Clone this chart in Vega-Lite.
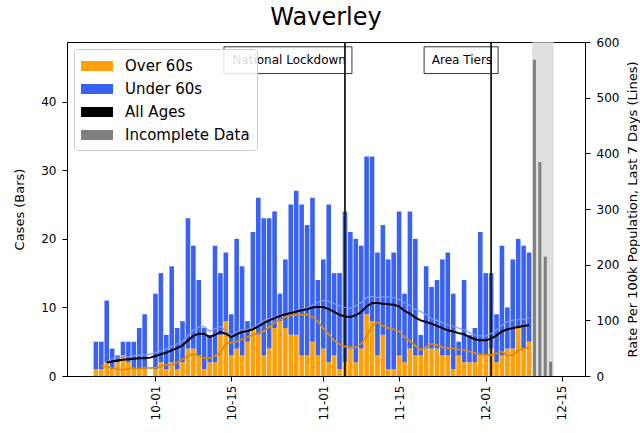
{
 "$schema": "https://vega.github.io/schema/vega-lite/v6.json",
 "width": 518,
 "height": 334,
 "autosize": {"type": "none"},
 "padding": {"left": 67, "top": 42, "right": 55, "bottom": 57},
 "title": {"text": "Waverley", "fontSize": 24, "font": "DejaVu Sans", "fontWeight": "normal", "offset": 6, "color": "black"},
 "config": {
  "font": "DejaVu Sans",
  "timeFormat": "%m-%d",
  "view": {"stroke": "black", "strokeWidth": 1},
  "axis": {"labelFont": "DejaVu Sans", "labelFontSize": 12, "labelColor": "black", "titleFont": "DejaVu Sans", "titleFontSize": 13, "titleFontWeight": "normal", "titleColor": "black", "tickColor": "black", "domainColor": "black", "tickSize": 5, "labelPadding": 6, "grid": false}
 },
 "datasets": {
  "bars": [
   {"date": "2020-09-20", "Over 60s": 1, "Under 60s": 4},
   {"date": "2020-09-21", "Over 60s": 1, "Under 60s": 4},
   {"date": "2020-09-22", "Over 60s": 2, "Under 60s": 9},
   {"date": "2020-09-23", "Over 60s": 1, "Under 60s": 3},
   {"date": "2020-09-24", "Over 60s": 2, "Under 60s": 1},
   {"date": "2020-09-25", "Over 60s": 3, "Under 60s": 2},
   {"date": "2020-09-26", "Over 60s": 2, "Under 60s": 3},
   {"date": "2020-09-27", "Over 60s": 1, "Under 60s": 4},
   {"date": "2020-09-28", "Over 60s": 1, "Under 60s": 6},
   {"date": "2020-09-29", "Over 60s": 1, "Under 60s": 8},
   {"date": "2020-10-01", "Over 60s": 1, "Under 60s": 11},
   {"date": "2020-10-02", "Over 60s": 2, "Under 60s": 13},
   {"date": "2020-10-03", "Over 60s": 1, "Under 60s": 5},
   {"date": "2020-10-04", "Over 60s": 2, "Under 60s": 14},
   {"date": "2020-10-05", "Over 60s": 1, "Under 60s": 6},
   {"date": "2020-10-06", "Over 60s": 2, "Under 60s": 6},
   {"date": "2020-10-07", "Over 60s": 4, "Under 60s": 19},
   {"date": "2020-10-08", "Over 60s": 4, "Under 60s": 15},
   {"date": "2020-10-09", "Over 60s": 3, "Under 60s": 11},
   {"date": "2020-10-10", "Over 60s": 1, "Under 60s": 6},
   {"date": "2020-10-11", "Over 60s": 2, "Under 60s": 4},
   {"date": "2020-10-12", "Over 60s": 2, "Under 60s": 17},
   {"date": "2020-10-13", "Over 60s": 6, "Under 60s": 9},
   {"date": "2020-10-14", "Over 60s": 8, "Under 60s": 10},
   {"date": "2020-10-15", "Over 60s": 3, "Under 60s": 6},
   {"date": "2020-10-16", "Over 60s": 4, "Under 60s": 16},
   {"date": "2020-10-17", "Over 60s": 3, "Under 60s": 13},
   {"date": "2020-10-18", "Over 60s": 5, "Under 60s": 3},
   {"date": "2020-10-19", "Over 60s": 7, "Under 60s": 14},
   {"date": "2020-10-20", "Over 60s": 6, "Under 60s": 20},
   {"date": "2020-10-21", "Over 60s": 3, "Under 60s": 20},
   {"date": "2020-10-22", "Over 60s": 4, "Under 60s": 19},
   {"date": "2020-10-23", "Over 60s": 7, "Under 60s": 17},
   {"date": "2020-10-24", "Over 60s": 8, "Under 60s": 4},
   {"date": "2020-10-25", "Over 60s": 7, "Under 60s": 10},
   {"date": "2020-10-26", "Over 60s": 6, "Under 60s": 19},
   {"date": "2020-10-27", "Over 60s": 6, "Under 60s": 21},
   {"date": "2020-10-28", "Over 60s": 3, "Under 60s": 22},
   {"date": "2020-10-29", "Over 60s": 3, "Under 60s": 19},
   {"date": "2020-10-30", "Over 60s": 5, "Under 60s": 21},
   {"date": "2020-10-31", "Over 60s": 3, "Under 60s": 11},
   {"date": "2020-11-01", "Over 60s": 4, "Under 60s": 13},
   {"date": "2020-11-02", "Over 60s": 2, "Under 60s": 23},
   {"date": "2020-11-03", "Over 60s": 3, "Under 60s": 12},
   {"date": "2020-11-04", "Over 60s": 1, "Under 60s": 14},
   {"date": "2020-11-05", "Over 60s": 2, "Under 60s": 22},
   {"date": "2020-11-06", "Over 60s": 4, "Under 60s": 17},
   {"date": "2020-11-07", "Over 60s": 2, "Under 60s": 18},
   {"date": "2020-11-08", "Over 60s": 4, "Under 60s": 15},
   {"date": "2020-11-09", "Over 60s": 9, "Under 60s": 23},
   {"date": "2020-11-10", "Over 60s": 8, "Under 60s": 24},
   {"date": "2020-11-11", "Over 60s": 3, "Under 60s": 15},
   {"date": "2020-11-12", "Over 60s": 6, "Under 60s": 16},
   {"date": "2020-11-13", "Over 60s": 1, "Under 60s": 16},
   {"date": "2020-11-14", "Over 60s": 1, "Under 60s": 17},
   {"date": "2020-11-15", "Over 60s": 3, "Under 60s": 21},
   {"date": "2020-11-16", "Over 60s": 2, "Under 60s": 10},
   {"date": "2020-11-17", "Over 60s": 4, "Under 60s": 20},
   {"date": "2020-11-18", "Over 60s": 3, "Under 60s": 17},
   {"date": "2020-11-19", "Over 60s": 3, "Under 60s": 3},
   {"date": "2020-11-20", "Over 60s": 4, "Under 60s": 12},
   {"date": "2020-11-21", "Over 60s": 4, "Under 60s": 9},
   {"date": "2020-11-22", "Over 60s": 4, "Under 60s": 10},
   {"date": "2020-11-23", "Over 60s": 3, "Under 60s": 14},
   {"date": "2020-11-24", "Over 60s": 3, "Under 60s": 15},
   {"date": "2020-11-25", "Over 60s": 1, "Under 60s": 11},
   {"date": "2020-11-26", "Over 60s": 3, "Under 60s": 2},
   {"date": "2020-11-27", "Over 60s": 2, "Under 60s": 12},
   {"date": "2020-11-28", "Over 60s": 2, "Under 60s": 4},
   {"date": "2020-11-29", "Over 60s": 2, "Under 60s": 5},
   {"date": "2020-11-30", "Over 60s": 3, "Under 60s": 18},
   {"date": "2020-12-01", "Over 60s": 3, "Under 60s": 12},
   {"date": "2020-12-02", "Over 60s": 4, "Under 60s": 11},
   {"date": "2020-12-03", "Over 60s": 2, "Under 60s": 7},
   {"date": "2020-12-04", "Over 60s": 3, "Under 60s": 16},
   {"date": "2020-12-05", "Over 60s": 4, "Under 60s": 6},
   {"date": "2020-12-06", "Over 60s": 4, "Under 60s": 13},
   {"date": "2020-12-07", "Over 60s": 7, "Under 60s": 13},
   {"date": "2020-12-08", "Over 60s": 4, "Under 60s": 15},
   {"date": "2020-12-09", "Over 60s": 5, "Under 60s": 13}
  ],
  "incomplete": [
   {"date": "2020-12-10", "cases": 46.1},
   {"date": "2020-12-11", "cases": 31.2},
   {"date": "2020-12-12", "cases": 17.4},
   {"date": "2020-12-13", "cases": 2.1}
  ],
  "band": [
   {"start": "2020-12-09T14:00:00Z", "end": "2020-12-13T14:00:00Z"}
  ],
  "events": [
   {"date": "2020-11-05", "label": "National Lockdown"},
   {"date": "2020-12-02", "label": "Area Tiers"}
  ],
  "rates": [
   {"date": "2020-09-21", "Over": 18},
   {"date": "2020-09-22", "All": 24, "Over": 17, "Under": 26},
   {"date": "2020-09-23", "All": 26, "Over": 14, "Under": 30},
   {"date": "2020-09-24", "All": 28, "Over": 12, "Under": 33},
   {"date": "2020-09-25", "All": 29, "Over": 11, "Under": 34},
   {"date": "2020-09-26", "All": 30, "Over": 13, "Under": 35},
   {"date": "2020-09-27", "All": 31, "Over": 14, "Under": 36},
   {"date": "2020-09-28", "All": 32, "Over": 13, "Under": 38},
   {"date": "2020-09-29", "All": 32, "Over": 15, "Under": 38},
   {"date": "2020-09-30", "All": 33, "Over": 14, "Under": 39},
   {"date": "2020-10-01", "All": 36, "Over": 15, "Under": 42},
   {"date": "2020-10-02", "All": 39, "Over": 17, "Under": 45},
   {"date": "2020-10-03", "All": 42, "Over": 20, "Under": 49},
   {"date": "2020-10-04", "All": 46, "Over": 20, "Under": 53},
   {"date": "2020-10-05", "All": 50, "Over": 24, "Under": 58},
   {"date": "2020-10-06", "All": 55, "Over": 30, "Under": 62},
   {"date": "2020-10-07", "All": 64, "Over": 35, "Under": 73},
   {"date": "2020-10-08", "All": 72, "Over": 40, "Under": 82},
   {"date": "2020-10-09", "All": 76, "Over": 36, "Under": 88},
   {"date": "2020-10-10", "All": 76, "Over": 32, "Under": 89},
   {"date": "2020-10-11", "All": 70, "Over": 32, "Under": 80},
   {"date": "2020-10-12", "All": 74, "Over": 36, "Under": 85},
   {"date": "2020-10-13", "All": 79, "Over": 42, "Under": 89},
   {"date": "2020-10-14", "All": 76, "Over": 58, "Under": 82},
   {"date": "2020-10-15", "All": 70, "Over": 60, "Under": 73},
   {"date": "2020-10-16", "All": 75, "Over": 62, "Under": 79},
   {"date": "2020-10-17", "All": 79, "Over": 66, "Under": 83},
   {"date": "2020-10-18", "All": 81, "Over": 70, "Under": 84},
   {"date": "2020-10-19", "All": 84, "Over": 74, "Under": 87},
   {"date": "2020-10-20", "All": 89, "Over": 77, "Under": 93},
   {"date": "2020-10-21", "All": 95, "Over": 80, "Under": 100},
   {"date": "2020-10-22", "All": 100, "Over": 88, "Under": 103},
   {"date": "2020-10-23", "All": 104, "Over": 96, "Under": 106},
   {"date": "2020-10-24", "All": 108, "Over": 101, "Under": 110},
   {"date": "2020-10-25", "All": 111, "Over": 106, "Under": 112},
   {"date": "2020-10-26", "All": 113, "Over": 109, "Under": 114},
   {"date": "2020-10-27", "All": 116, "Over": 110, "Under": 118},
   {"date": "2020-10-28", "All": 118, "Over": 110, "Under": 120},
   {"date": "2020-10-29", "All": 120, "Over": 110, "Under": 123},
   {"date": "2020-10-30", "All": 123, "Over": 106, "Under": 128},
   {"date": "2020-10-31", "All": 124, "Over": 98, "Under": 132},
   {"date": "2020-11-01", "All": 124, "Over": 85, "Under": 136},
   {"date": "2020-11-02", "All": 120, "Over": 75, "Under": 134},
   {"date": "2020-11-03", "All": 115, "Over": 64, "Under": 130},
   {"date": "2020-11-04", "All": 110, "Over": 57, "Under": 126},
   {"date": "2020-11-05", "All": 107, "Over": 53, "Under": 123},
   {"date": "2020-11-06", "All": 106, "Over": 52, "Under": 122},
   {"date": "2020-11-07", "All": 109, "Over": 51, "Under": 126},
   {"date": "2020-11-08", "All": 115, "Over": 58, "Under": 132},
   {"date": "2020-11-09", "All": 125, "Over": 72, "Under": 141},
   {"date": "2020-11-10", "All": 131, "Over": 90, "Under": 143},
   {"date": "2020-11-11", "All": 131, "Over": 97, "Under": 141},
   {"date": "2020-11-12", "All": 130, "Over": 90, "Under": 142},
   {"date": "2020-11-13", "All": 129, "Over": 86, "Under": 142},
   {"date": "2020-11-14", "All": 128, "Over": 84, "Under": 141},
   {"date": "2020-11-15", "All": 125, "Over": 80, "Under": 138},
   {"date": "2020-11-16", "All": 117, "Over": 70, "Under": 131},
   {"date": "2020-11-17", "All": 112, "Over": 63, "Under": 127},
   {"date": "2020-11-18", "All": 105, "Over": 54, "Under": 120},
   {"date": "2020-11-19", "All": 100, "Over": 47, "Under": 116},
   {"date": "2020-11-20", "All": 97, "Over": 52, "Under": 110},
   {"date": "2020-11-21", "All": 94, "Over": 58, "Under": 104},
   {"date": "2020-11-22", "All": 90, "Over": 56, "Under": 100},
   {"date": "2020-11-23", "All": 86, "Over": 52, "Under": 96},
   {"date": "2020-11-24", "All": 82, "Over": 50, "Under": 92},
   {"date": "2020-11-25", "All": 80, "Over": 49, "Under": 89},
   {"date": "2020-11-26", "All": 77, "Over": 48, "Under": 86},
   {"date": "2020-11-27", "All": 75, "Over": 47, "Under": 83},
   {"date": "2020-11-28", "All": 70, "Over": 44, "Under": 78},
   {"date": "2020-11-29", "All": 66, "Over": 41, "Under": 74},
   {"date": "2020-11-30", "All": 64, "Over": 39, "Under": 72},
   {"date": "2020-12-01", "All": 64, "Over": 38, "Under": 72},
   {"date": "2020-12-02", "All": 67, "Over": 38, "Under": 76},
   {"date": "2020-12-03", "All": 73, "Over": 40, "Under": 83},
   {"date": "2020-12-04", "All": 80, "Over": 44, "Under": 91},
   {"date": "2020-12-05", "All": 84, "Over": 36, "Under": 98},
   {"date": "2020-12-06", "All": 86, "Over": 38, "Under": 100},
   {"date": "2020-12-07", "All": 88, "Over": 45, "Under": 101},
   {"date": "2020-12-08", "All": 90, "Over": 50, "Under": 102},
   {"date": "2020-12-09", "All": 91, "Over": 50, "Under": 104}
  ]
 },
 "layer": [
  {
   "layer": [
    {
     "data": {"name": "band"},
     "mark": {"type": "rect", "color": "#d2d2d2", "opacity": 0.7},
     "encoding": {
      "x": {"field": "start", "type": "temporal"},
      "x2": {"field": "end"}
     }
    },
    {
     "data": {"name": "bars"},
     "transform": [{"fold": ["Over 60s", "Under 60s"], "as": ["group", "cases"]}],
     "mark": {"type": "bar", "width": 4.6},
     "encoding": {
      "x": {
       "field": "date", "type": "temporal",
       "scale": {"type": "utc", "domain": [{"year": 2020, "month": 9, "date": 15, "hours": 14, "utc": true}, {"year": 2020, "month": 12, "date": 18, "hours": 10, "utc": true}]},
       "axis": {"title": null, "labelExpr": "utcFormat(datum.value, '%m-%d')", "labelAngle": -90, "labelPadding": 4,
        "values": [{"year": 2020, "month": 10, "date": 1, "utc": true}, {"year": 2020, "month": 10, "date": 15, "utc": true}, {"year": 2020, "month": 11, "date": 1, "utc": true}, {"year": 2020, "month": 11, "date": 15, "utc": true}, {"year": 2020, "month": 12, "date": 1, "utc": true}, {"year": 2020, "month": 12, "date": 15, "utc": true}]}
      },
      "y": {
       "field": "cases", "type": "quantitative", "stack": "zero",
       "scale": {"domain": [0, 48.7], "nice": false},
       "axis": {"title": "Cases (Bars)", "values": [0, 10, 20, 30, 40], "titlePadding": 14}
      },
      "order": {"field": "group", "type": "nominal", "sort": "ascending"},
      "color": {
       "field": "group", "type": "nominal",
       "scale": {"domain": ["Over 60s", "Under 60s", "All Ages", "Incomplete Data"], "range": ["#ff9f0a", "#3a62f2", "#000000", "#808080"]},
       "legend": {"title": null, "orient": "top-left", "offset": 7, "symbolType": "M-1.6,-0.5L1.6,-0.5L1.6,0.5L-1.6,0.5Z", "symbolSize": 400, "symbolOffset": 6, "labelOffset": 18, "labelFontSize": 15, "labelFont": "DejaVu Sans", "labelColor": "black", "rowPadding": 5, "padding": 7, "fillColor": "rgba(255,255,255,0.85)", "strokeColor": "#cccccc", "cornerRadius": 3, "symbolStrokeWidth": 0, "symbolOpacity": 1}
      }
     }
    },
    {
     "data": {"name": "incomplete"},
     "mark": {"type": "bar", "color": "#7f7f7f", "width": 3},
     "encoding": {
      "x": {"field": "date", "type": "temporal"},
      "y": {"field": "cases", "type": "quantitative"}
     }
    },
    {
     "data": {"name": "events"},
     "transform": [{"filter": "datum.label === 'National Lockdown'"}],
     "mark": {"type": "rect", "fill": "white", "stroke": "#333333", "strokeWidth": 1, "xOffset": -121, "x2Offset": 7},
     "encoding": {
      "x": {"field": "date", "type": "temporal"},
      "x2": {"field": "date"},
      "y": {"datum": 48.0},
      "y2": {"datum": 44.1}
     }
    },
    {
     "data": {"name": "events"},
     "transform": [{"filter": "datum.label === 'Area Tiers'"}],
     "mark": {"type": "rect", "fill": "white", "stroke": "#333333", "strokeWidth": 1, "xOffset": -67, "x2Offset": 7},
     "encoding": {
      "x": {"field": "date", "type": "temporal"},
      "x2": {"field": "date"},
      "y": {"datum": 48.0},
      "y2": {"datum": 44.1}
     }
    },
    {
     "data": {"name": "events"},
     "mark": {"type": "text", "align": "right", "baseline": "middle", "dx": 1, "fontSize": 12, "font": "DejaVu Sans", "color": "black"},
     "encoding": {
      "x": {"field": "date", "type": "temporal"},
      "y": {"datum": 46.05},
      "text": {"field": "label"}
     }
    },
    {
     "data": {"name": "events"},
     "mark": {"type": "rule", "color": "#1a1a1a", "strokeWidth": 1.8},
     "encoding": {
      "x": {"field": "date", "type": "temporal"}
     }
    }
   ]
  },
  {
   "layer": [
    {
     "data": {"name": "rates"},
     "mark": {"type": "line", "color": "#7f9bff", "strokeWidth": 1.2},
     "encoding": {
      "x": {"field": "date", "type": "temporal"},
      "y": {
       "field": "Under", "type": "quantitative",
       "scale": {"domain": [0, 600], "nice": false},
       "axis": {"orient": "right", "title": "Rate Per 100k Population, Last 7 Days (Lines)", "values": [0, 100, 200, 300, 400, 500, 600], "titleAngle": 270, "titleBaseline": "top", "titlePadding": 8}
      }
     }
    },
    {
     "data": {"name": "rates"},
     "mark": {"type": "line", "color": "#d98a0c", "strokeWidth": 1.8},
     "encoding": {
      "x": {"field": "date", "type": "temporal"},
      "y": {"field": "Over", "type": "quantitative"}
     }
    },
    {
     "data": {"name": "rates"},
     "mark": {"type": "line", "color": "#000000", "strokeWidth": 2},
     "encoding": {
      "x": {"field": "date", "type": "temporal"},
      "y": {"field": "All", "type": "quantitative"}
     }
    }
   ]
  }
 ],
 "resolve": {"scale": {"y": "independent"}}
}
